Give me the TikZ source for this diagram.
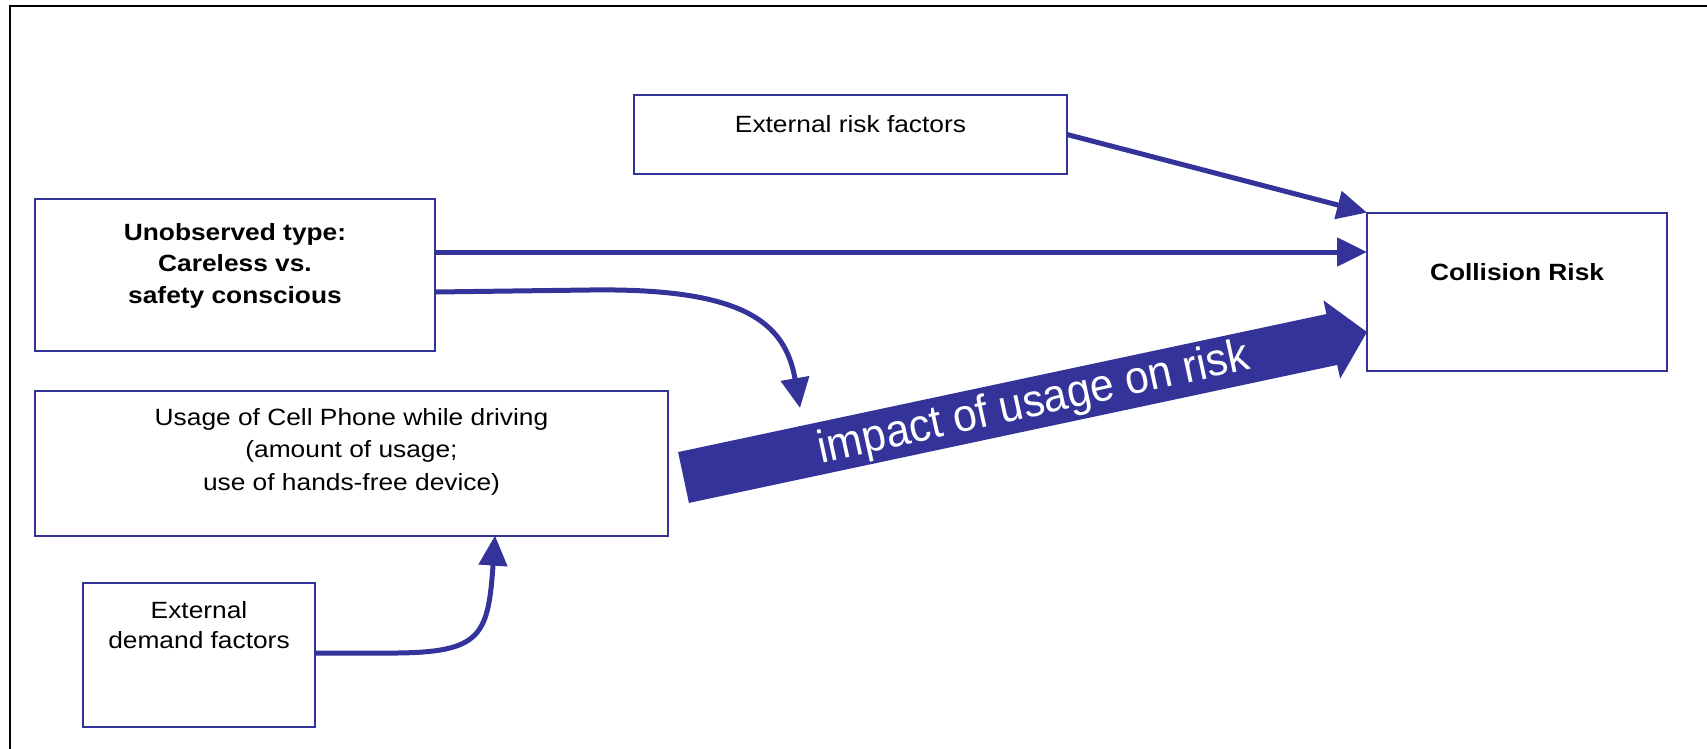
\documentclass[tikz,border=0pt]{standalone}
\usepackage{fontspec}
\setmainfont{Liberation Sans}
\usepackage{graphicx}
\usetikzlibrary{arrows.meta}
\definecolor{navy}{RGB}{51,51,153}
\newcommand{\sx}[1]{\scalebox{1.12}[1]{#1}}
\newcommand{\boxfont}{\fontsize{23.5}{30}\selectfont}
\begin{document}
\begin{tikzpicture}[x=1pt,y=-1pt,
  box/.style={draw=navy, line width=1.8pt, rectangle, inner sep=0pt, outer sep=0pt},
  lbl/.style={inner sep=0pt, outer sep=0pt, anchor=base, text=black, font=\boxfont},
  conn/.style={draw=navy, line width=5pt, -{Triangle[length=30pt,width=28pt]}},
  fat/.style={draw=navy, line width=52pt, -{Triangle[length=36pt,width=78pt]}},
]
\useasboundingbox (0,0) rectangle (1707,749);
% frame
\draw[line width=2.8pt, black] (1707,6) -- (10,6) -- (10,749);

% boxes
\node[box, minimum width=433pt, minimum height=79pt] (ext) at (850.5,134.5) {};
\node[box, minimum width=400pt, minimum height=152pt] (unob) at (235,275) {};
\node[box, minimum width=300pt, minimum height=158.2pt] (coll) at (1517,291.7) {};
\node[box, minimum width=633pt, minimum height=144.6pt] (use) at (351.5,463.3) {};
\node[box, minimum width=232pt, minimum height=144pt] (dem) at (199,655) {};

% texts
\node[lbl] (extT) at (850.5,132) {\sx{External risk factors}};
\node[lbl] (unobT) at (235,240) {\sx{\fontsize{23.5}{31.5}\selectfont\bfseries\begin{tabular}[t]{@{}c@{}}Unobserved type:\\Careless vs.\\safety conscious\end{tabular}}};
\node[lbl] (collT) at (1517,280) {\sx{\bfseries Collision Risk}};
\node[lbl] (useT) at (351.5,425) {\sx{\fontsize{23.5}{32.5}\selectfont\begin{tabular}[t]{@{}c@{}}Usage of Cell Phone while driving\\(amount of usage;\\use of hands-free device)\end{tabular}}};
\node[lbl] (demT) at (199,618) {\sx{\begin{tabular}[t]{@{}c@{}}External\\demand factors\end{tabular}}};

% connectors
\draw[conn] (ext.east) -- (coll.north west);
\draw[conn] ([yshift=23pt]unob.east) -- ([yshift=39.7pt]coll.west);
\coordinate (c1) at (800,408);
\draw[conn] ([yshift=-17pt]unob.east) -- (590,290) .. controls (740,288) and (785,320) .. (c1);
\draw[conn] ([yshift=2pt]dem.east) -- (380,653) .. controls (480,654) and (488,640) .. ([xshift=143.5pt]use.south);

% fat arrow
\draw[fat] ([xshift=15.5pt,yshift=-14.2pt]use.east) -- ([yshift=-40.3pt]coll.west);
\node[rotate=12.4, anchor=base, text=white, inner sep=0pt] (impT) at (1036.5,416)
  {\fontsize{46}{48}\selectfont\scalebox{0.93}[1]{impact of usage on risk}};
\end{tikzpicture}
\end{document}
